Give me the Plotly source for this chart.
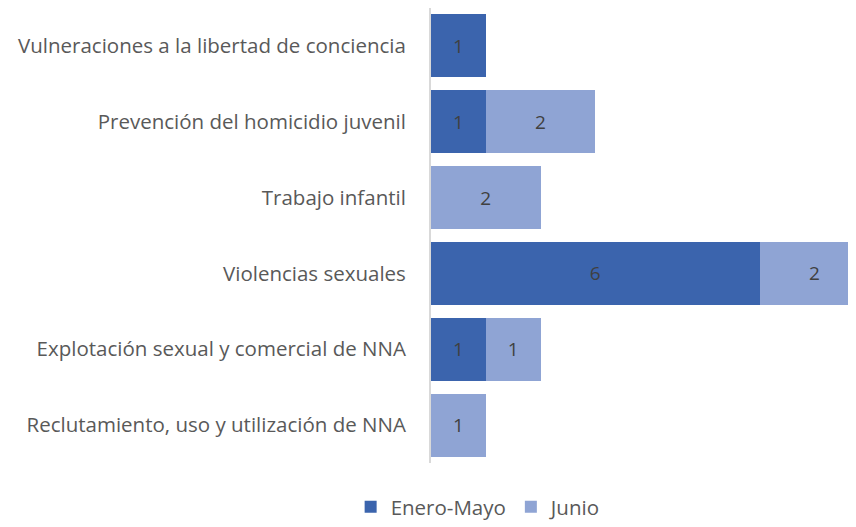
import plotly.graph_objects as go

categorias = [
    "Reclutamiento, uso y utilización de NNA",
    "Explotación sexual y comercial de NNA",
    "Violencias sexuales",
    "Trabajo infantil",
    "Prevención del homicidio juvenil",
    "Vulneraciones a la libertad de conciencia",
]
enero_mayo = [0, 1, 6, 0, 1, 1]
junio = [1, 1, 2, 2, 2, 0]

def etiquetas(vals):
    return [str(v) if v else "" for v in vals]

fig = go.Figure()
fig.add_trace(go.Bar(
    y=categorias, x=enero_mayo, name="Enero-Mayo", orientation="h",
    marker=dict(color="#3B64AD", line=dict(width=0)),
    text=etiquetas(enero_mayo), textposition="inside", insidetextanchor="middle",
    textfont=dict(color="#404040", size=19), constraintext="none",
))
fig.add_trace(go.Bar(
    y=categorias, x=junio, name="Junio", orientation="h",
    marker=dict(color="#8FA4D4", line=dict(width=0)),
    text=etiquetas(junio), textposition="inside", insidetextanchor="middle",
    textfont=dict(color="#404040", size=19), constraintext="none",
))

# the page body has an 8px margin, so the figure is shifted by 8px
fig.update_layout(
    barmode="stack",
    bargap=0.17,
    width=848, height=519,
    margin=dict(l=423, r=0, t=0, b=64),
    paper_bgcolor="white",
    plot_bgcolor="white",
    font=dict(family="Open Sans, sans-serif", size=20.5, color="#595959"),
    xaxis=dict(range=[0, 7.76], showticklabels=False, showgrid=False,
               zeroline=False, showline=False, fixedrange=True),
    yaxis=dict(showline=True, linecolor="#D9D9D9", linewidth=2, ticks="",
               showgrid=False, ticklabelstandoff=19),
    legend=dict(orientation="h", xref="container", yref="container",
                x=0.555, xanchor="center", y=0.0, yanchor="bottom",
                font=dict(size=20.5, color="#595959"), itemwidth=30,
                traceorder="normal"),
    showlegend=True,
)
fig.write_html("out.html")
